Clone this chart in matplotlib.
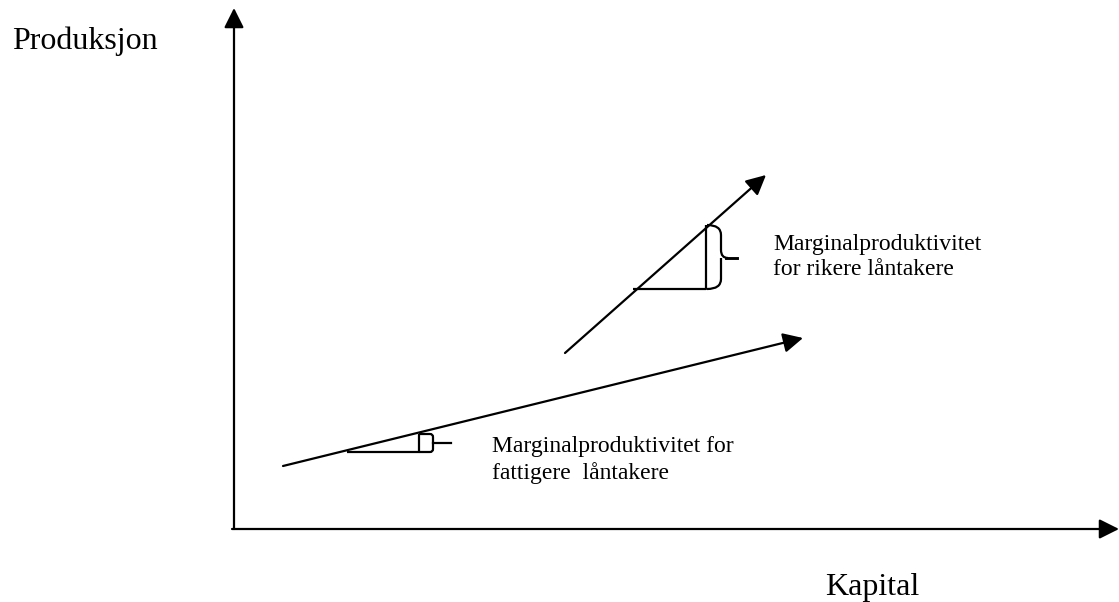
import matplotlib
matplotlib.use("Agg")
import matplotlib.pyplot as plt
from matplotlib.path import Path
from matplotlib.patches import PathPatch

# Figur i pikselkoordinater (y nedover)
W, H = 1119, 602

# Akser: origo, toppen av y-aksen, enden av x-aksen
origin = (234, 529)
y_axis_top = (234, 8)
x_axis_end = (1119, 529)

# Linjer for rikere og fattigere låntakere (start, slutt)
rich_line = [(565, 353), (766, 175)]
poor_line = [(283, 466), (803, 338)]

# Trekanter: horisontal start, hjørne, topp
rich_tri = [(633, 289), (706, 289), (706, 225)]
poor_tri = [(347, 452), (419, 452), (419, 434)]

labels = {
    "y": "Produksjon",
    "x": "Kapital",
    "rich": "Marginalproduktivitet\nfor rikere låntakere",
    "poor": "Marginalproduktivitet for\nfattigere  låntakere",
}

plt.rcParams['font.family'] = ['Liberation Serif', 'DejaVu Serif']

fig = plt.figure(figsize=(W / 100, H / 100), dpi=100)
ax = fig.add_axes([0, 0, 1, 1])
ax.set_xlim(0, W)
ax.set_ylim(H, 0)
ax.axis('off')

lw = 1.6


def arrow(p0, p1, hl=1.2, hw=0.6):
    ax.annotate('', xy=p1, xytext=p0,
                arrowprops=dict(arrowstyle=f'-|>,head_length={hl},head_width={hw}',
                                mutation_scale=10, lw=lw, color='black',
                                shrinkA=0, shrinkB=0, fc='black'))


arrow(origin, y_axis_top)
arrow((origin[0] - 2, origin[1]), x_axis_end)
arrow(*rich_line)
arrow(*poor_line)

for tri in (rich_tri, poor_tri):
    xs, ys = zip(*tri)
    ax.plot(xs, ys, color='black', lw=lw, solid_capstyle='butt')

# Krøllparentes for rikere låntakere
x0, xs_, xt = 707, 721, 737
y0, ym, y1 = 225, 258, 289
verts = [(x0, y0), (xs_, y0), (xs_, y0 + 10), (xs_, ym - 8), (xs_, ym), (xs_ + 7, ym),
         (xs_, ym), (xs_, ym + 8), (xs_, y1 - 10), (xs_, y1), (x0, y1)]
codes = [Path.MOVETO, Path.CURVE3, Path.CURVE3, Path.LINETO, Path.CURVE3, Path.CURVE3,
         Path.MOVETO, Path.CURVE3, Path.LINETO, Path.CURVE3, Path.CURVE3]
ax.add_patch(PathPatch(Path(verts, codes), fill=False, lw=lw, color='black'))
ax.plot([xs_ + 5, xt], [ym, ym], color='black', lw=lw * 1.3)

# Liten parentes for fattigere låntakere
bx0, bx1, btip = 419, 433, 451
by0, bym, by1 = 434, 443, 452
verts = [(bx0, by0), (bx1 - 3, by0), (bx1, by0), (bx1, by0 + 3), (bx1, by1 - 3),
         (bx1, by1), (bx1 - 3, by1), (bx0, by1)]
codes = [Path.MOVETO, Path.LINETO, Path.CURVE3, Path.CURVE3, Path.LINETO,
         Path.CURVE3, Path.CURVE3, Path.LINETO]
ax.add_patch(PathPatch(Path(verts, codes), fill=False, lw=lw, color='black'))
ax.plot([bx1, btip], [bym, bym], color='black', lw=lw)

ax.text(12, 49, labels["y"], fontsize=23, va='baseline', ha='left')
ax.text(825, 595, labels["x"], fontsize=23, va='baseline', ha='left')
# flerlinjet tekst: baseline gjelder siste linje
ax.text(773, 275, labels["rich"], fontsize=17, va='baseline', ha='left',
        linespacing=1.27)
ax.text(492, 479, labels["poor"], fontsize=17, va='baseline', ha='left',
        linespacing=1.27)

fig.savefig('out.png', dpi=100)
